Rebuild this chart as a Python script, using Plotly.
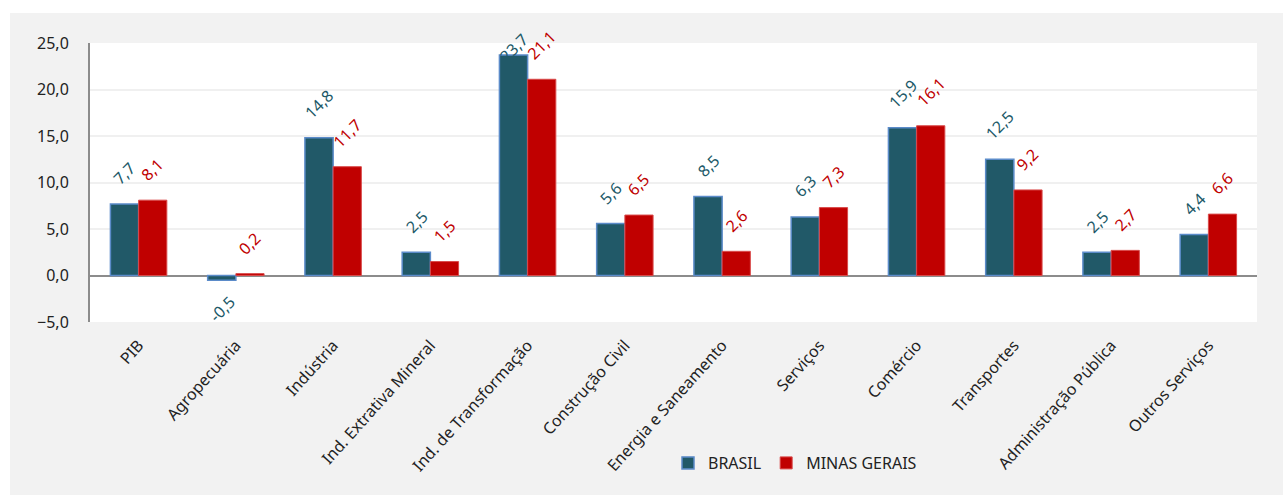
import plotly.graph_objects as go

categories = ["PIB", "Agropecuária", "Indústria", "Ind. Extrativa Mineral",
              "Ind. de Transformação", "Construção Civil", "Energia e Saneamento",
              "Serviços", "Comércio", "Transportes", "Administração Pública",
              "Outros Serviços"]
brasil = [7.7, -0.5, 14.8, 2.5, 23.7, 5.6, 8.5, 6.3, 15.9, 12.5, 2.5, 4.4]
minas = [8.1, 0.2, 11.7, 1.5, 21.1, 6.5, 2.6, 7.3, 16.1, 9.2, 2.7, 6.6]
y_ticks = [-5, 0, 5, 10, 15, 20, 25]

W, H = 1283, 495
L, R, T, B = 90, 26, 43, 173
pw, ph = W - L - R, H - T - B
Y0, Y1 = -5, 25
BARGAP = 0.42
half_bar = pw / len(categories) * (1 - BARGAP) / 4  # centre offset of each bar in a group
LABEL_SHIFT, LABEL_H, LABEL_TOP_MIN = 12, 40, 26  # label layout (px)

FONT = "Noto Sans"
C_BR, C_MG = "#215968", "#c00000"

fig = go.Figure()
fig.add_trace(go.Bar(
    name="BRASIL", x=categories, y=brasil,
    marker=dict(color=C_BR, line=dict(color="#5b8bc9", width=1.5)),
))
fig.add_trace(go.Bar(
    name="MINAS GERAIS", x=categories, y=minas,
    marker=dict(color=C_MG, line=dict(color="#d94a4a", width=1)),
))

annotations = []
for series, color, sign in ((brasil, C_BR, -1), (minas, C_MG, 1)):
    for cat, v in zip(categories, series):
        label = f"{v:.1f}".replace(".", ",")
        ann = dict(x=cat, xref="x", text=label, showarrow=False, textangle=-45,
                   xanchor="center", xshift=sign * half_bar,
                   font=dict(family=FONT, size=16, color=color))
        if v < 0:
            ann.update(y=v, yref="y", yanchor="top", yshift=-8)
        else:
            bar_top_px = T + (Y1 - v) / (Y1 - Y0) * ph
            if bar_top_px - LABEL_SHIFT - LABEL_H < LABEL_TOP_MIN:
                # keep label inside the chart area, as the original does
                ann.update(y=1 + (T - LABEL_TOP_MIN) / ph, yref="paper", yanchor="top")
            else:
                ann.update(y=v, yref="y", yanchor="bottom", yshift=LABEL_SHIFT)
        annotations.append(ann)

fig.update_layout(
    width=W, height=H,
    margin=dict(l=L, r=R, t=T, b=B, pad=0),
    paper_bgcolor="#f2f2f2",
    plot_bgcolor="#ffffff",
    separators=",.",
    barmode="group", bargap=BARGAP, bargroupgap=0,
    font=dict(family=FONT, size=16, color="#222222"),
    showlegend=True,
    legend=dict(orientation="h", x=(795 - L) / pw, y=(T + ph - 463) / ph,
                xanchor="center", yanchor="middle",
                font=dict(family=FONT, size=16, color="#222222"),
                bgcolor="rgba(0,0,0,0)", itemwidth=30, traceorder="normal"),
    xaxis=dict(tickangle=-48, showgrid=False, showline=False, ticks="",
               ticklabelstandoff=10,
               tickfont=dict(family=FONT, size=16, color="#222222")),
    yaxis=dict(range=[Y0, Y1], tickvals=y_ticks, tickformat=".1f",
               showgrid=True, gridcolor="#f0f0f0", gridwidth=2,
               zeroline=True, zerolinecolor="#8c8c8c", zerolinewidth=2,
               showline=True, linecolor="#8c8c8c", linewidth=2, ticks="",
               ticklabelstandoff=16,
               tickfont=dict(family=FONT, size=16, color="#222222")),
    annotations=annotations,
    shapes=[
        dict(type="rect", xref="paper", yref="paper", layer="below",
             x0=-L / pw, x1=(10 - L) / pw, y0=-B / ph, y1=1 + T / ph,
             fillcolor="#ffffff", line=dict(width=0)),
        dict(type="rect", xref="paper", yref="paper", layer="below",
             x0=-L / pw, x1=1 + R / pw, y0=1 + (T - 13) / ph, y1=1 + T / ph,
             fillcolor="#ffffff", line=dict(width=0)),
    ],
)

fig.write_html("out.html")
